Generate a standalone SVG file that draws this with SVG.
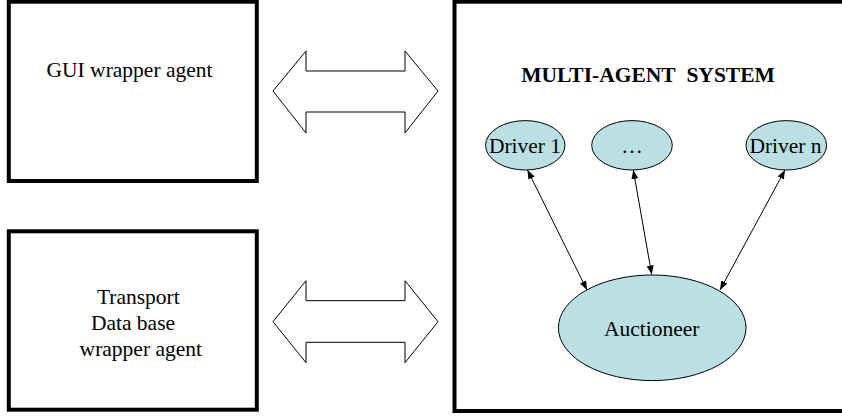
<svg xmlns="http://www.w3.org/2000/svg" width="842" height="416" viewBox="0 0 842 416">
<style>
.box{fill:#fff;stroke:#000;stroke-width:4}
.fat{fill:#fff;stroke:#000;stroke-width:1}
.ell{fill:#BBE0E3;stroke:#000;stroke-width:1}
.t{font-family:"Liberation Serif","Times New Roman",serif;font-size:21.5px;fill:#000;text-anchor:middle}
.b{font-weight:bold}
.con{stroke:#000;stroke-width:1;fill:none;marker-start:url(#ah);marker-end:url(#ah)}
</style>
<defs>
<marker id="ah" markerUnits="userSpaceOnUse" markerWidth="9" markerHeight="7" refX="9" refY="3.5" orient="auto-start-reverse">
<path d="M0,0 L9,3.5 L0,7 z" fill="#000"/>
</marker>
</defs>
<rect width="842" height="416" fill="#fff"/>
<g id="gui">
<rect class="box" x="8.8" y="1.7" width="248" height="179.3"/>
<text class="t" x="129.5" y="77">GUI wrapper agent</text>
</g>
<g id="db">
<rect class="box" x="8.8" y="231.3" width="248" height="178.4"/>
<text class="t" x="138.3" y="304.3">Transport</text>
<text class="t" x="133" y="330">Data base</text>
<text class="t" x="140.8" y="355.7">wrapper agent</text>
</g>
<g id="arrow1">
<polygon class="fat" points="273,91 306,51 306,71 405,71 405,51 438,91 405,133 405,112 306,112 306,133"/>
</g>
<g id="arrow2">
<polygon class="fat" points="273,321.7 306,280.7 306,300.7 405,300.7 405,280.7 438,321.7 405,362.7 405,342.3 306,342.3 306,362.7"/>
</g>
<g id="mas">
<rect class="box" x="454.5" y="1.7" width="400" height="409.3"/>
<text class="t b" x="648" y="82.3">MULTI-AGENT&#160; SYSTEM</text>
</g>
<g id="connectors">
<line class="con" x1="527.5" y1="170" x2="587" y2="290"/>
<line class="con" x1="633.3" y1="170" x2="651.7" y2="274.5"/>
<line class="con" x1="785" y1="170" x2="720" y2="290"/>
</g>
<g id="driver1">
<ellipse class="ell" cx="525.3" cy="145.3" rx="39.7" ry="24.7"/>
<text class="t" x="525" y="153.3">Driver 1</text>
</g>
<g id="driverdots">
<ellipse class="ell" cx="632" cy="145.3" rx="40.3" ry="24.7"/>
<text class="t" x="632" y="153.3">…</text>
</g>
<g id="drivern">
<ellipse class="ell" cx="786.3" cy="145.3" rx="40.3" ry="24.7"/>
<text class="t" x="785.5" y="153.3">Driver n</text>
</g>
<g id="auctioneer">
<ellipse class="ell" cx="652.2" cy="327.8" rx="93.8" ry="52.8"/>
<text class="t" x="651.7" y="336">Auctioneer</text>
</g>
</svg>
